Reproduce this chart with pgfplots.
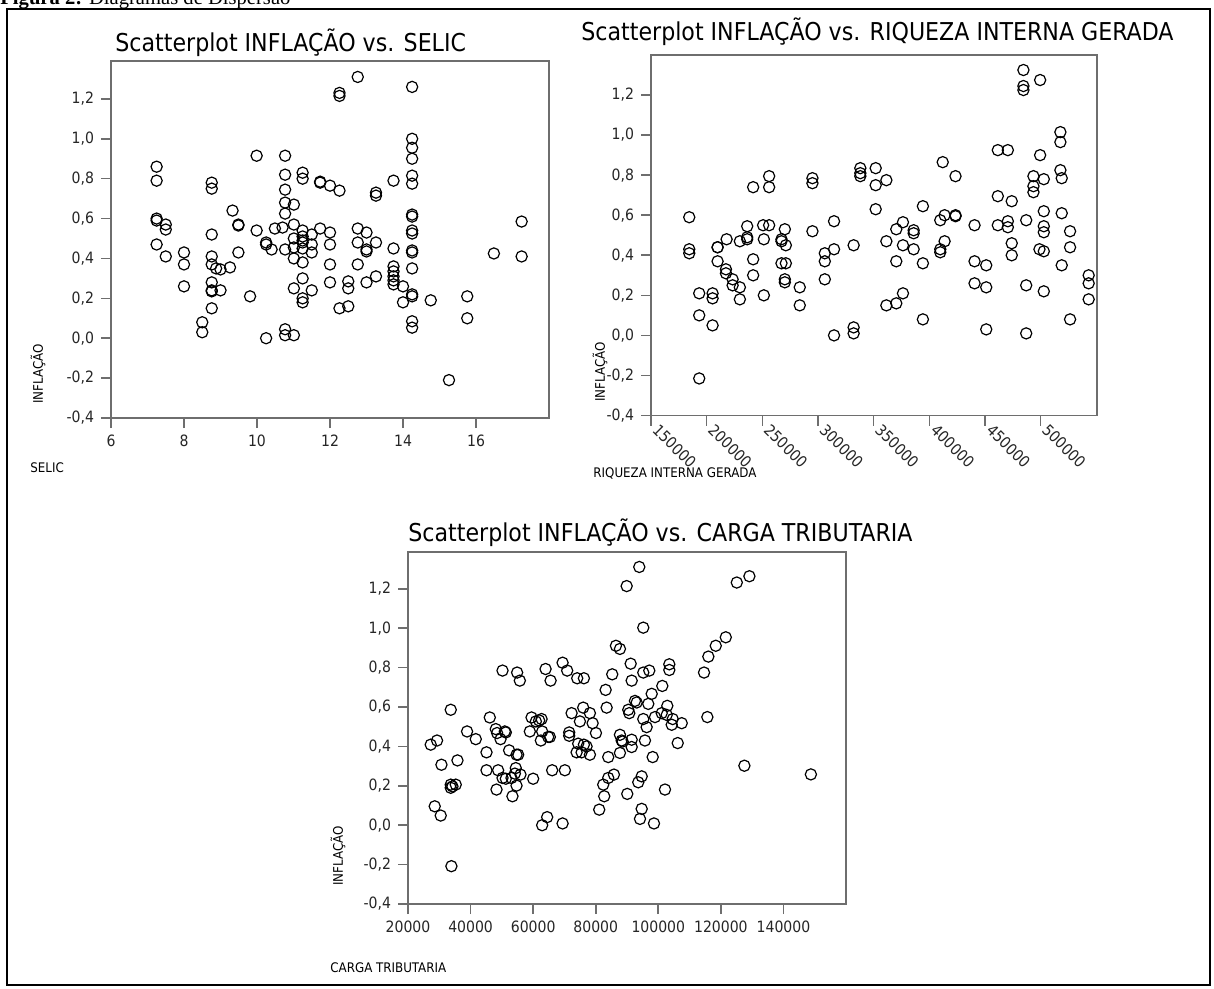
\documentclass[border=0pt]{standalone}
\usepackage{fontspec}
\setmainfont{DejaVu Sans Condensed}
\newfontfamily\capfont{Liberation Serif}
\usepackage{pgfplots}
\pgfplotsset{compat=1.18}

\definecolor{axgray}{HTML}{6E6E6E}

\pgfplotsset{
  spss/.style={
    scale only axis,
    anchor=south west,
    ymin=-0.4,
    ytick={-0.4,-0.2,0,0.2,0.4,0.6,0.8,1.0,1.2},
    tick pos=left,
    tick align=outside,
    major tick length=5pt,
    axis line style={axgray, line width=0.9pt},
    tick style={axgray, line width=0.8pt},
    /pgf/number format/assume math mode=true,
    /pgf/number format/1000 sep={},
    ticklabel style={font=\fontsize{7.8}{9}\selectfont, text=black!85},
    xticklabel style={/pgf/number format/fixed, /pgf/number format/precision=0},
    yticklabel style={/pgf/number format/fixed, /pgf/number format/fixed zerofill,
      /pgf/number format/precision=1, /pgf/number format/use comma},
    scaled x ticks=false,
    clip=false,
    only marks,
  },
  pts/.style={mark=o, mark size=2.8pt, mark options={black, line width=0.6pt}},
}

\begin{document}
\begin{tikzpicture}
\useasboundingbox (0,0) rectangle (607pt,-494.5pt);
\draw[black, line width=0.9pt] (3.5pt,-4.5pt) rectangle (605pt,-492.5pt);
\node[anchor=base west, inner sep=0pt, font=\capfont\fontsize{10.3}{11}\selectfont] at (0pt,-2.2pt) {\textbf{Figura 2:} Diagramas de Dispersão};

% ---- SELIC ----
\begin{axis}[spss, at={(55.5pt,-209pt)}, width=219pt, height=178.5pt,
  xmin=6, xmax=18, ymax=1.39, xtick={6,8,10,12,14,16}]
\addplot[pts] coordinates {
(7.25,0.86)(7.25,0.79)(7.25,0.60)(7.25,0.59)(7.25,0.47)
(7.5,0.57)(7.5,0.545)(7.5,0.41)
(8.0,0.43)(8.0,0.37)(8.0,0.26)
(8.5,0.08)(8.5,0.03)
(8.76,0.78)(8.76,0.75)(8.76,0.52)(8.76,0.41)(8.76,0.37)(8.76,0.28)(8.76,0.24)(8.76,0.235)(8.76,0.15)
(8.88,0.35)
(9.0,0.345)(9.0,0.24)
(9.26,0.355)
(9.33,0.64)
(9.49,0.57)(9.49,0.565)(9.49,0.43)
(9.81,0.21)
(9.99,0.915)(9.99,0.54)
(10.25,0.48)(10.25,0.47)(10.25,0.0)
(10.4,0.445)
(10.49,0.55)
(10.7,0.555)
(10.77,0.915)(10.77,0.82)(10.77,0.745)(10.77,0.68)(10.77,0.625)(10.77,0.445)(10.77,0.045)(10.77,0.015)
(11.01,0.67)(11.01,0.57)(11.01,0.50)(11.01,0.455)(11.01,0.40)(11.01,0.25)(11.01,0.015)
(11.25,0.83)(11.25,0.80)(11.25,0.54)(11.25,0.51)(11.25,0.49)(11.25,0.48)(11.25,0.45)(11.25,0.38)(11.25,0.30)(11.25,0.20)(11.25,0.18)
(11.5,0.52)(11.5,0.47)(11.5,0.43)(11.5,0.24)
(11.73,0.785)(11.73,0.78)(11.73,0.55)
(12.0,0.765)(12.0,0.53)(12.0,0.47)(12.0,0.37)(12.0,0.28)
(12.26,1.23)(12.26,1.215)(12.26,0.74)(12.26,0.15)
(12.5,0.285)(12.5,0.25)(12.5,0.16)
(12.76,1.31)(12.76,0.55)(12.76,0.48)(12.76,0.37)
(13.0,0.53)(13.0,0.445)(13.0,0.435)(13.0,0.28)
(13.26,0.73)(13.26,0.715)(13.26,0.48)(13.26,0.31)
(13.74,0.79)(13.74,0.45)(13.74,0.36)(13.74,0.335)(13.74,0.31)(13.74,0.29)(13.74,0.27)
(14.0,0.26)(14.0,0.18)
(14.25,1.26)(14.25,1.0)(14.25,0.955)(14.25,0.90)(14.25,0.815)(14.25,0.775)(14.25,0.62)(14.25,0.61)(14.25,0.54)(14.25,0.525)(14.25,0.44)(14.25,0.43)(14.25,0.35)(14.25,0.22)(14.25,0.21)(14.25,0.085)(14.25,0.053)
(14.76,0.19)
(15.26,-0.21)
(15.76,0.21)(15.76,0.10)
(16.49,0.425)
(17.25,0.585)(17.25,0.41)
};
\end{axis}

% ---- RIQUEZA INTERNA GERADA ----
\begin{axis}[spss, at={(325.5pt,-207.75pt)}, width=223pt, height=180.25pt,
  xmin=150000, xmax=550600, ymax=1.4,
  xtick={150000,200000,250000,300000,350000,400000,450000,500000},
  xticklabel style={rotate=-45, anchor=west, inner sep=1pt, xshift=1pt, yshift=1pt}]
\addplot[pts] coordinates {
(184350,0.59)(184350,0.43)(184350,0.41)
(193300,0.21)(193300,0.10)(193300,-0.215)
(205300,0.21)(205300,0.185)(205300,0.05)
(209800,0.44)(209800,0.44)(209800,0.37)
(217300,0.33)(217300,0.31)
(217900,0.48)
(223300,0.28)(223300,0.25)
(229800,0.47)(229800,0.24)(229800,0.18)
(236400,0.545)(236400,0.49)(236400,0.48)
(241750,0.74)(241750,0.38)(241750,0.30)
(250700,0.55)
(251350,0.48)(251350,0.20)
(256100,0.795)(256100,0.74)(256100,0.55)
(267200,0.48)(267200,0.47)(267200,0.36)
(270200,0.53)(270200,0.28)(270200,0.265)
(271100,0.45)(271100,0.36)
(283600,0.24)(283600,0.15)
(295000,0.785)(295000,0.76)(295000,0.52)
(306100,0.41)(306100,0.37)(306100,0.28)
(314400,0.57)(314400,0.43)(314400,0.0)
(332000,0.45)(332000,0.04)(332000,0.01)
(338000,0.835)(338000,0.81)(338000,0.795)
(351800,0.835)(351800,0.75)(351800,0.63)
(361400,0.775)(361400,0.47)(361400,0.15)
(370300,0.53)(370300,0.37)(370300,0.16)
(376300,0.565)(376300,0.45)(376300,0.21)
(385900,0.525)(385900,0.51)(385900,0.43)
(394200,0.645)(394200,0.36)(394200,0.08)
(409800,0.575)(409800,0.43)(409800,0.415)
(412000,0.865)
(413700,0.60)(413700,0.47)
(423500,0.795)(423500,0.60)(423500,0.595)
(440600,0.55)(440600,0.37)(440600,0.26)
(451100,0.35)(451100,0.24)(451100,0.03)
(461500,0.925)(461500,0.695)(461500,0.55)
(470500,0.925)(470500,0.57)(470500,0.54)
(474000,0.67)(474000,0.46)(474000,0.40)
(484500,1.325)(484500,1.245)(484500,1.225)
(487000,0.575)(487000,0.25)(487000,0.01)
(493500,0.795)(493500,0.745)(493500,0.715)
(499500,1.275)(499500,0.90)(498900,0.43)
(502800,0.78)(502800,0.62)(502800,0.545)(502800,0.515)(502800,0.42)(502800,0.22)
(517700,1.015)(517700,0.965)(517700,0.825)
(518900,0.785)(518900,0.61)(518900,0.35)
(526400,0.52)(526400,0.44)(526400,0.08)
(543100,0.30)(543100,0.26)(543100,0.18)
};
\end{axis}

% ---- CARGA TRIBUTARIA ----
\begin{axis}[spss, at={(204pt,-452pt)}, width=219pt, height=176pt,
  xmin=20000, xmax=160000, ymax=1.387,
  xtick={20000,40000,60000,80000,100000,120000,140000}]
\addplot[pts] coordinates {
(93920,1.311)(89890,1.214)(125090,1.232)(129120,1.264)(95200,1.003)
(121570,0.954)(118370,0.911)(116000,0.856)(114620,0.775)(86460,0.911)
(87740,0.895)(91170,0.82)(103520,0.817)(103520,0.788)(95200,0.775)
(97120,0.785)(91490,0.734)(85280,0.766)(83170,0.687)(69410,0.825)
(70880,0.785)(63970,0.793)(65570,0.734)(50210,0.785)(54880,0.775)
(55740,0.734)(74080,0.746)(76220,0.746)(101280,0.707)(97890,0.667)
(96800,0.616)(102880,0.606)(104610,0.539)(115680,0.549)(127520,0.302)
(92540,0.631)(93090,0.623)(90400,0.586)(90720,0.569)(83490,0.597)
(33660,0.586)(46140,0.547)(38880,0.476)(41660,0.437)(27260,0.409)
(29280,0.43)(30690,0.307)(35810,0.329)(45090,0.37)(48060,0.488)
(48480,0.468)(49570,0.437)(50940,0.476)(51260,0.471)(52320,0.38)
(54690,0.358)(55210,0.358)(59490,0.547)(60860,0.527)(61920,0.532)
(62690,0.539)(58940,0.476)(62880,0.476)(62460,0.43)(64800,0.448)
(65340,0.448)(71520,0.471)(71520,0.454)(72290,0.569)(74940,0.527)
(76000,0.597)(78140,0.569)(79010,0.518)(80070,0.468)(74400,0.414)
(76220,0.409)(77070,0.40)(73890,0.37)(75490,0.37)(78140,0.358)
(84000,0.346)(87740,0.459)(88290,0.43)(88610,0.425)(87740,0.367)
(91490,0.434)(91490,0.397)(95200,0.539)(96280,0.498)(95740,0.43)
(98210,0.346)(98950,0.549)(101090,0.569)(102690,0.56)(104290,0.51)
(107490,0.518)(106210,0.417)(28540,0.096)(30460,0.049)(33660,0.206)
(34210,0.197)(35260,0.206)(33660,0.19)(33870,-0.208)(45090,0.279)
(48800,0.279)(48290,0.181)(50210,0.24)(51260,0.236)(53080,0.24)
(53390,0.147)(54450,0.29)(54150,0.262)(55950,0.257)(54690,0.201)
(60000,0.236)(62880,0.0)(64480,0.041)(66080,0.279)(70140,0.279)
(69410,0.009)(81120,0.079)(82400,0.206)(82720,0.147)(84000,0.24)
(85820,0.257)(90080,0.159)(93600,0.218)(94690,0.248)(94690,0.083)
(94150,0.032)(98620,0.009)(102140,0.181)(148770,0.258)
};
\end{axis}

% titles and labels
\begin{scope}[every node/.style={inner sep=0pt}]
\node[anchor=base west, font=\fontsize{12.3}{13}\selectfont] at (57.5pt,-25.8pt) {Scatterplot INFLAÇÃO vs. SELIC};
\node[anchor=base west, font=\fontsize{12.3}{13}\selectfont] at (290.5pt,-20.5pt) {Scatterplot INFLAÇÃO vs. RIQUEZA INTERNA GERADA};
\node[anchor=base west, font=\fontsize{12.3}{13}\selectfont] at (204pt,-270.8pt) {Scatterplot INFLAÇÃO vs. CARGA TRIBUTARIA};
\node[rotate=90, font=\fontsize{6.6}{7}\selectfont] at (19pt,-187pt) {INFLAÇÃO};
\node[rotate=90, font=\fontsize{6.6}{7}\selectfont] at (300pt,-186pt) {INFLAÇÃO};
\node[rotate=90, font=\fontsize{6.6}{7}\selectfont] at (169pt,-428pt) {INFLAÇÃO};
\node[anchor=base west, font=\fontsize{6.6}{7}\selectfont] at (15pt,-236pt) {SELIC};
\node[anchor=base west, font=\fontsize{6.6}{7}\selectfont] at (296.5pt,-238.5pt) {RIQUEZA INTERNA GERADA};
\node[anchor=base west, font=\fontsize{6.6}{7}\selectfont] at (165pt,-486pt) {CARGA TRIBUTARIA};
\end{scope}
\end{tikzpicture}
\end{document}
